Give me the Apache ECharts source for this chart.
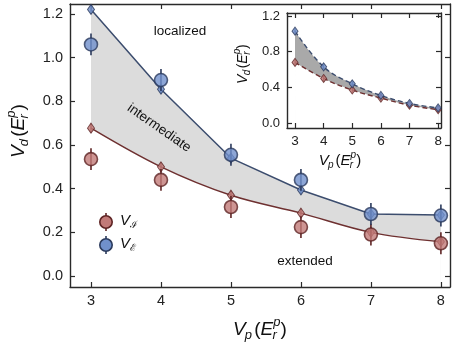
<!DOCTYPE html>
<html><head><meta charset="utf-8">
<script src="https://cdn.jsdelivr.net/npm/echarts@6/dist/echarts.min.js"></script>
<style>html,body{margin:0;padding:0;background:#fff}#c{width:456px;height:346px}</style>
</head><body><div id="c"></div>
<script>
// ---- data ----
const vp = [3, 4, 5, 6, 7, 8];
// main plot: theory (diamonds + lines)
const thE = [1.22, 0.855, 0.54, 0.394, 0.284, 0.279];
const thI = [0.677, 0.50, 0.37, 0.288, 0.20, 0.157];
const thErr = [0.02, 0.02, 0.02, 0.02, 0.02, 0.02];
// main plot: measured (circles)
const expE = [1.06, 0.897, 0.555, 0.44, 0.284, 0.277];
const expI = [0.535, 0.44, 0.316, 0.224, 0.19, 0.15];
const expEErr = [0.05, 0.05, 0.05, 0.05, 0.05, 0.05];
const expIErr = [0.05, 0.05, 0.05, 0.05, 0.05, 0.05];
// inset
const inE = [1.03, 0.63, 0.44, 0.31, 0.22, 0.17];
const inI = [0.68, 0.50, 0.37, 0.28, 0.20, 0.15];
const inErr = [0.03, 0.03, 0.03, 0.03, 0.03, 0.03];
const xTicks = [3, 4, 5, 6, 7, 8];
const yTicksMain = [0, 0.2, 0.4, 0.6, 0.8, 1.0, 1.2];
const yTicksInset = [0, 0.4, 0.8, 1.2];

const FONT = 'Liberation Sans, Arial, sans-serif';
const AX = '#2a2a2a';
const BLUE_L = '#3c4d6e', RED_L = '#6e3030';
const BLUE_F = '#7090cc', RED_F = '#c27a78';
const BLUE_S = '#2b3a5c', RED_S = '#5e2424';

function pairs(xs, ys) { return xs.map((x, i) => [x, ys[i]]); }
function errData(xs, ys, es) { return xs.map((x, i) => [x, ys[i], es[i]]); }
function errSeries(gi, data, color, w, z) {
  return {
    type: 'custom', xAxisIndex: gi * 2, yAxisIndex: gi * 2, z: z, silent: true,
    data: data,
    renderItem: function (params, api) {
      const x = api.value(0), y = api.value(1), e = api.value(2);
      const p1 = api.coord([x, y - e]), p2 = api.coord([x, y + e]);
      return { type: 'line', shape: { x1: p1[0], y1: p1[1], x2: p2[0], y2: p2[1] },
               style: { stroke: color, lineWidth: w } };
    }
  };
}

function xAx(gi, pos, min, max, labels, z, fs) {
  return {
    type: 'value', gridIndex: gi, position: pos, min: min, max: max, z: z,
    axisLine: { show: true, onZero: false, lineStyle: { color: AX, width: 1.4 } },
    axisTick: { show: true, inside: true, length: 5, customValues: xTicks, lineStyle: { color: AX, width: 1.2 } },
    axisLabel: { show: labels, customValues: xTicks, color: '#222', fontSize: fs, fontFamily: FONT, margin: 6 },
    splitLine: { show: false }
  };
}
function yAx(gi, pos, min, max, ticks, labels, z, fs) {
  return {
    type: 'value', gridIndex: gi, position: pos, min: min, max: max, z: z,
    axisLine: { show: true, onZero: false, lineStyle: { color: AX, width: 1.4 } },
    axisTick: { show: true, inside: true, length: 5, customValues: ticks, lineStyle: { color: AX, width: 1.2 } },
    axisLabel: { show: labels, customValues: ticks, color: '#222', fontSize: fs, fontFamily: FONT, margin: 7,
                 formatter: v => v.toFixed(1) },
    splitLine: { show: false }
  };
}

// label builder: V_sub(E_r^p)
function axisLabelGroup(x, y, rot, size, sub) {
  const s = size, ss = Math.round(size * 0.68);
  const ital = { fontFamily: FONT, fontStyle: 'italic', fill: '#111', textVerticalAlign: 'middle' };
  const norm = { fontFamily: FONT, fill: '#111', textVerticalAlign: 'middle' };
  const kids = [
    { type: 'text', x: 0, y: 0, style: Object.assign({ text: 'V', fontSize: s }, ital) },
    { type: 'text', x: s * 0.62, y: s * 0.3, style: Object.assign({ text: sub, fontSize: ss }, ital) },
    { type: 'text', x: s * 1.12, y: 0, style: Object.assign({ text: '(', fontSize: s }, norm) },
    { type: 'text', x: s * 1.45, y: 0, style: Object.assign({ text: 'E', fontSize: s }, ital) },
    { type: 'text', x: s * 2.12, y: -s * 0.38, style: Object.assign({ text: 'p', fontSize: ss }, ital) },
    { type: 'text', x: s * 2.08, y: s * 0.3, style: Object.assign({ text: 'r', fontSize: ss }, ital) },
    { type: 'text', x: s * 2.5, y: 0, style: Object.assign({ text: ')', fontSize: s }, norm) }
  ];
  const w = s * 2.85;
  return { type: 'group', x: x, y: y, rotation: rot, originX: 0, originY: 0,
           children: kids.map(k => Object.assign(k, { x: k.x - w / 2 })) , z: 50 };
}

const chart = echarts.init(document.getElementById('c'), null, { renderer: 'canvas' });
const option = {
  animation: false,
  backgroundColor: '#fff',
  grid: [
    { left: 70, top: 4, width: 380, height: 283, show: false },
    { left: 287, top: 13, width: 154, height: 115, show: true, backgroundColor: '#fff', borderWidth: 0, z: 10 }
  ],
  xAxis: [
    xAx(0, 'bottom', 2.7, 8.13, true, 3, 14.5),
    xAx(0, 'top', 2.7, 8.13, false, 3, 14.5),
    xAx(1, 'bottom', 2.72, 8.1, true, 13, 13.5),
    xAx(1, 'top', 2.72, 8.1, false, 13, 13.5)
  ],
  yAxis: [
    yAx(0, 'left', -0.05, 1.245, yTicksMain, true, 3, 14.5),
    yAx(0, 'right', -0.05, 1.245, yTicksMain, false, 3, 14.5),
    yAx(1, 'left', -0.055, 1.233, yTicksInset, true, 13, 13),
    yAx(1, 'right', -0.055, 1.233, yTicksInset, false, 13, 13)
  ],
  series: [
    // main fill: gray under upper theory line, white under lower theory line
    { type: 'line', xAxisIndex: 0, yAxisIndex: 0, data: pairs(vp, thE), smooth: false,
      symbol: 'none', lineStyle: { width: 0, opacity: 0 }, areaStyle: { color: '#dcdcdc', opacity: 1, origin: 'start' }, z: 1 },
    { type: 'line', xAxisIndex: 0, yAxisIndex: 0, data: pairs(vp, thI), smooth: 0.35,
      symbol: 'none', lineStyle: { width: 0, opacity: 0 }, areaStyle: { color: '#ffffff', opacity: 1, origin: 'start' }, z: 2 },
    // theory lines
    { type: 'line', xAxisIndex: 0, yAxisIndex: 0, data: pairs(vp, thI), smooth: 0.35, symbol: 'none',
      lineStyle: { color: RED_L, width: 1.5 }, z: 4 },
    { type: 'line', xAxisIndex: 0, yAxisIndex: 0, data: pairs(vp, thE), smooth: false, symbol: 'none',
      lineStyle: { color: BLUE_L, width: 1.5 }, z: 4 },
    errSeries(0, errData(vp, thI, thErr), RED_L, 1.3, 5),
    errSeries(0, errData(vp, thE, thErr), BLUE_L, 1.3, 5),
    { type: 'scatter', xAxisIndex: 0, yAxisIndex: 0, data: pairs(vp, thI), symbol: 'diamond', symbolSize: [7, 10],
      itemStyle: { color: RED_F, borderColor: RED_S, borderWidth: 1 }, z: 6 },
    { type: 'scatter', xAxisIndex: 0, yAxisIndex: 0, data: pairs(vp, thE), symbol: 'diamond', symbolSize: [7, 10],
      itemStyle: { color: BLUE_F, borderColor: BLUE_S, borderWidth: 1 }, z: 6 },
    // measured circles
    errSeries(0, errData(vp, expI, expIErr), RED_S, 1.6, 7),
    errSeries(0, errData(vp, expE, expEErr), BLUE_S, 1.6, 7),
    { type: 'scatter', xAxisIndex: 0, yAxisIndex: 0, data: pairs(vp, expI), symbol: 'circle', symbolSize: 13,
      itemStyle: { color: RED_F, borderColor: RED_S, borderWidth: 1.6 }, z: 8 },
    { type: 'scatter', xAxisIndex: 0, yAxisIndex: 0, data: pairs(vp, expE), symbol: 'circle', symbolSize: 13,
      itemStyle: { color: BLUE_F, borderColor: BLUE_S, borderWidth: 1.6 }, z: 8 },
    // inset
    { type: 'line', xAxisIndex: 2, yAxisIndex: 2, data: pairs(vp, inE), smooth: 0.4,
      symbol: 'none', lineStyle: { width: 0, opacity: 0 }, areaStyle: { color: '#a9a9a9', opacity: 1, origin: 'start' }, z: 11 },
    { type: 'line', xAxisIndex: 2, yAxisIndex: 2, data: pairs(vp, inI), smooth: 0.4,
      symbol: 'none', lineStyle: { width: 0, opacity: 0 }, areaStyle: { color: '#ffffff', opacity: 1, origin: 'start' }, z: 12 },
    { type: 'line', xAxisIndex: 2, yAxisIndex: 2, data: pairs(vp, inI), smooth: 0.4, symbol: 'none',
      lineStyle: { color: RED_L, width: 1.4, type: [5, 3] }, z: 14 },
    { type: 'line', xAxisIndex: 2, yAxisIndex: 2, data: pairs(vp, inE), smooth: 0.4, symbol: 'none',
      lineStyle: { color: BLUE_L, width: 1.4, type: [5, 3] }, z: 14 },
    errSeries(1, errData(vp, inI, inErr), RED_L, 1.2, 15),
    errSeries(1, errData(vp, inE, inErr), BLUE_L, 1.2, 15),
    { type: 'scatter', xAxisIndex: 2, yAxisIndex: 2, data: pairs(vp, inI), symbol: 'diamond', symbolSize: [6, 8],
      itemStyle: { color: RED_F, borderColor: RED_S, borderWidth: 1 }, z: 16 },
    { type: 'scatter', xAxisIndex: 2, yAxisIndex: 2, data: pairs(vp, inE), symbol: 'diamond', symbolSize: [6, 8],
      itemStyle: { color: BLUE_F, borderColor: BLUE_S, borderWidth: 1 }, z: 16 }
  ],
  graphic: [
    { type: 'text', x: 180, y: 31, z: 50, style: { text: 'localized', fontSize: 13.5, fontFamily: FONT, fill: '#111', textAlign: 'center', textVerticalAlign: 'middle' } },
    { type: 'text', x: 305, y: 261, z: 50, style: { text: 'extended', fontSize: 13.5, fontFamily: FONT, fill: '#111', textAlign: 'center', textVerticalAlign: 'middle' } },
    { type: 'text', x: 159, y: 128, rotation: -35 * Math.PI / 180, z: 50, style: { text: 'intermediate', fontSize: 13.5, fontFamily: FONT, fill: '#111', textAlign: 'center', textVerticalAlign: 'middle' } },
    // legend
    { type: 'line', z: 50, shape: { x1: 106, y1: 213, x2: 106, y2: 231 }, style: { stroke: RED_S, lineWidth: 1.6 } },
    { type: 'circle', z: 51, shape: { cx: 106, cy: 222, r: 6.2 }, style: { fill: RED_F, stroke: RED_S, lineWidth: 1.6 } },
    { type: 'line', z: 50, shape: { x1: 106, y1: 236, x2: 106, y2: 254 }, style: { stroke: BLUE_S, lineWidth: 1.6 } },
    { type: 'circle', z: 51, shape: { cx: 106, cy: 245, r: 6.2 }, style: { fill: BLUE_F, stroke: BLUE_S, lineWidth: 1.6 } },
    { type: 'text', x: 120, y: 221, z: 50, style: { text: '{v|V}{s|ℐ}', fontFamily: FONT, textVerticalAlign: 'middle',
        rich: { v: { fontSize: 15, fontStyle: 'italic', fontFamily: FONT, fill: '#111' }, s: { fontSize: 10, fontFamily: 'DejaVu Serif', fill: '#111', padding: [8, 0, 0, 0] } } } },
    { type: 'text', x: 120, y: 244, z: 50, style: { text: '{v|V}{s|ℰ}', fontFamily: FONT, textVerticalAlign: 'middle',
        rich: { v: { fontSize: 15, fontStyle: 'italic', fontFamily: FONT, fill: '#111' }, s: { fontSize: 10, fontFamily: 'DejaVu Serif', fill: '#111', padding: [8, 0, 0, 0] } } } },
    axisLabelGroup(19, 131, Math.PI / 2, 19, 'd'),
    axisLabelGroup(260, 330, 0, 19, 'p'),
    axisLabelGroup(243, 64, Math.PI / 2, 14, 'd'),
    axisLabelGroup(340, 161, 0, 15, 'p')
  ]
};
chart.setOption(option);
</script></body></html>
